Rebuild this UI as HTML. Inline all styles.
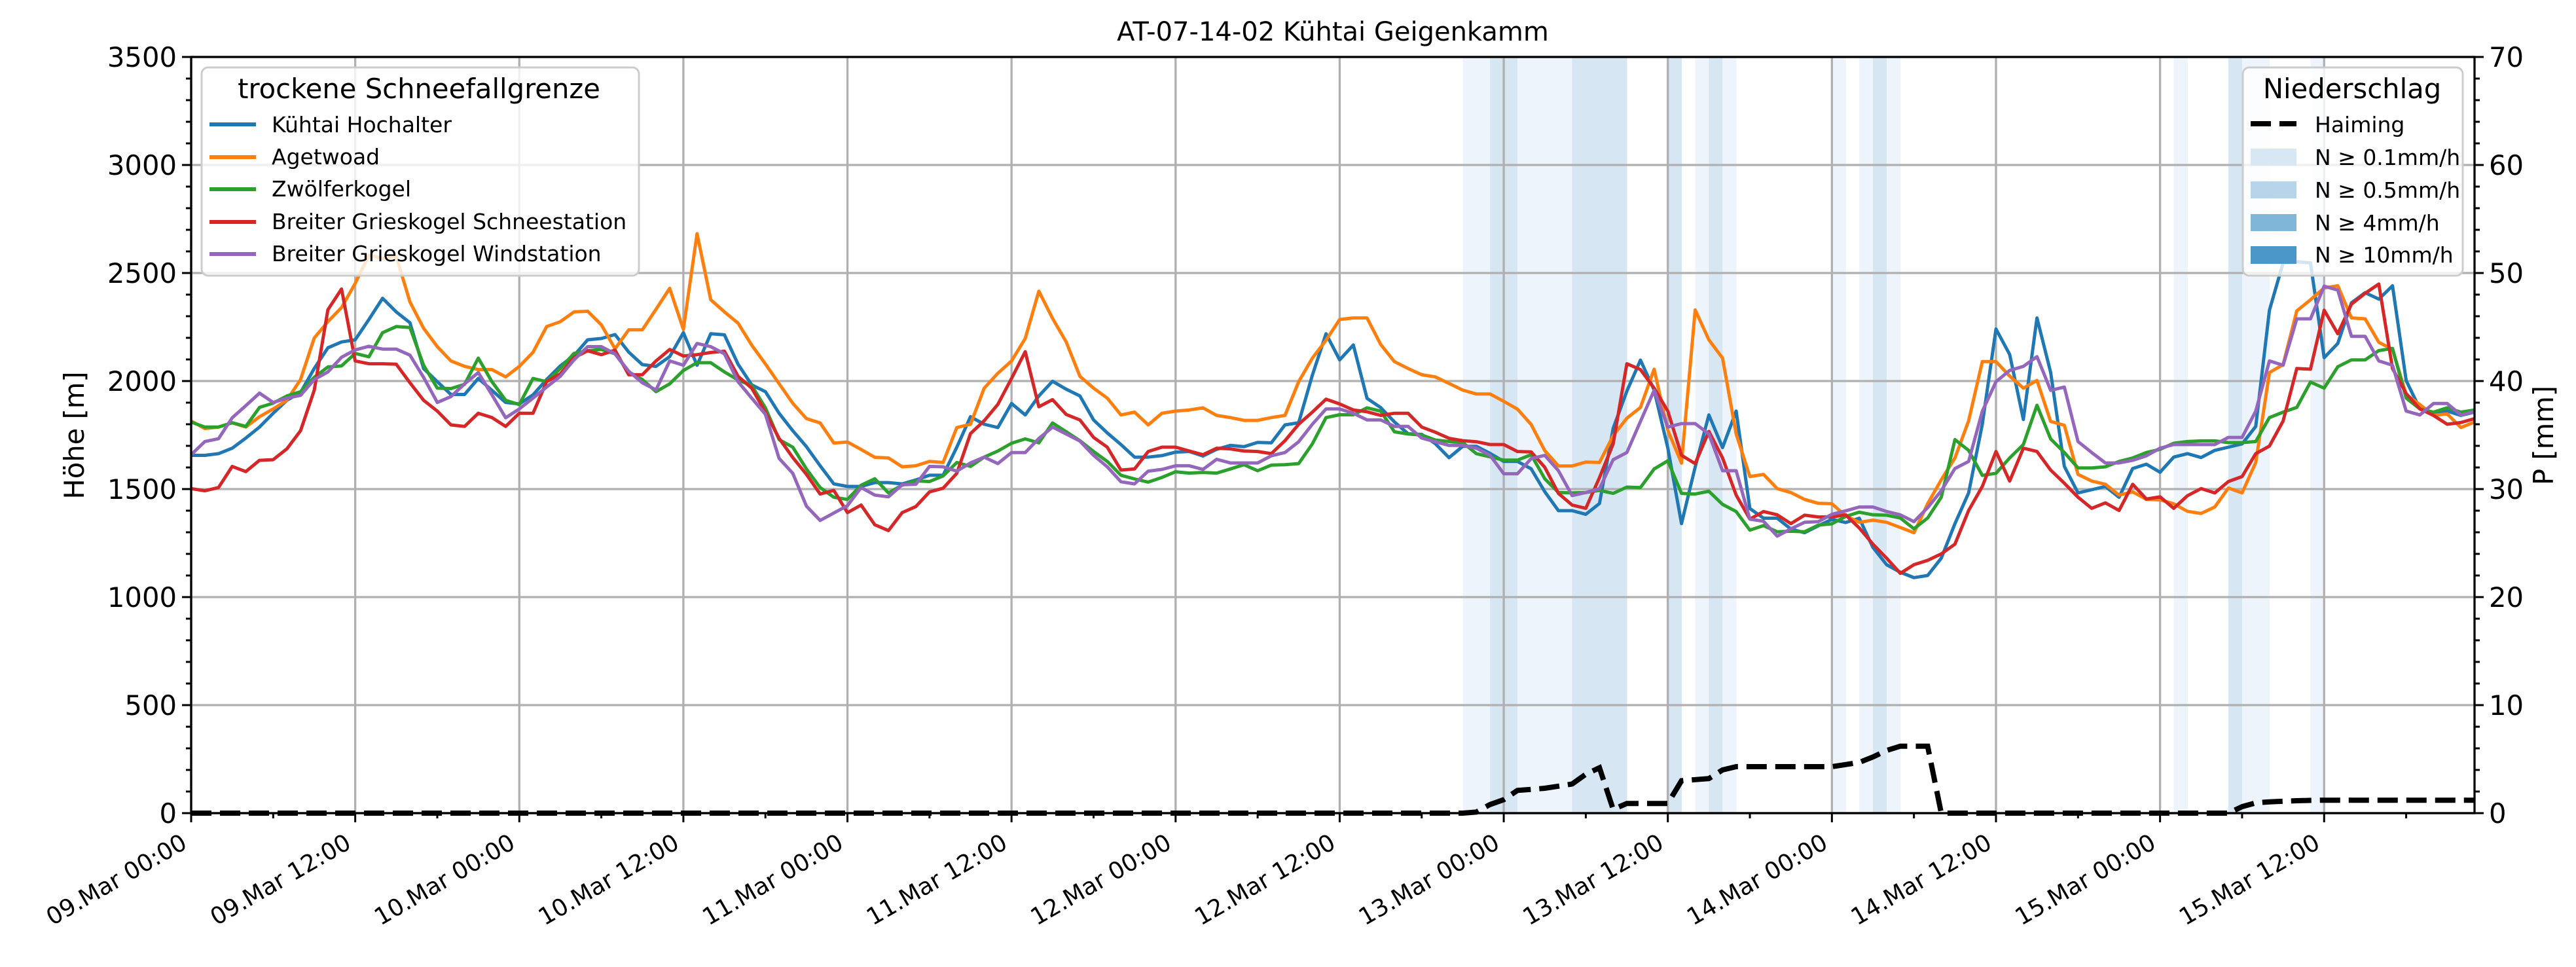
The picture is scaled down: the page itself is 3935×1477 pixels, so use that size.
<!DOCTYPE html>
<html><head><meta charset="utf-8"><title>AT-07-14-02 Kühtai Geigenkamm</title>
<style>html,body{margin:0;padding:0;background:#fff}svg{display:block;font-family:"DejaVu Sans","Liberation Sans",sans-serif}</style>
</head><body>
<svg id="chart" width="3935" height="1477" viewBox="0 0 3935 1477" xmlns="http://www.w3.org/2000/svg">
<rect width="3935" height="1477" fill="#fff"/>
<g id="bands"></g>
<g id="grid"></g>
<g id="series"></g>
<g id="axes"></g>
<text x="2036" y="62" font-size="40" text-anchor="middle">AT-07-14-02 Kühtai Geigenkamm</text>
<text transform="translate(128,665) rotate(-90)" font-size="41.7" text-anchor="middle">Höhe [m]</text>
<text transform="translate(3900,665) rotate(-90)" font-size="41.7" text-anchor="middle">P [mm]</text>

<g>
<rect x="308" y="103" width="668" height="318" rx="10" fill="#fff" fill-opacity="0.8" stroke="#cccccc" stroke-width="3"/>
<text x="640" y="150" font-size="41.7" text-anchor="middle">trockene Schneefallgrenze</text>
<g><line x1="320" y1="190" x2="391" y2="190" stroke="#1f77b4" stroke-width="6"/><text x="415" y="202" font-size="33">Kühtai Hochalter</text></g>
<g><line x1="320" y1="240" x2="391" y2="240" stroke="#ff7f0e" stroke-width="6"/><text x="415" y="251" font-size="33">Agetwoad</text></g>
<g><line x1="320" y1="289" x2="391" y2="289" stroke="#2ca02c" stroke-width="6"/><text x="415" y="300" font-size="33">Zwölferkogel</text></g>
<g><line x1="320" y1="339" x2="391" y2="339" stroke="#d62728" stroke-width="6"/><text x="415" y="350" font-size="33">Breiter Grieskogel Schneestation</text></g>
<g><line x1="320" y1="388" x2="391" y2="388" stroke="#9467bd" stroke-width="6"/><text x="415" y="399" font-size="33">Breiter Grieskogel Windstation</text></g>
</g>

<g>
<rect x="3426" y="103" width="336" height="318" rx="10" fill="#fff" fill-opacity="0.8" stroke="#cccccc" stroke-width="3"/>
<text x="3593" y="150" font-size="41.7" text-anchor="middle">Niederschlag</text>
<g><line x1="3438" y1="189" x2="3508" y2="189" stroke="#000" stroke-width="8" stroke-dasharray="31 13"/><text x="3536" y="202" font-size="33">Haiming</text></g>
<g><rect x="3438" y="227" width="70" height="26" fill="#d8e7f4"/><text x="3536" y="252" font-size="33">N ≥ 0.1mm/h</text></g>
<g><rect x="3438" y="277" width="70" height="26" fill="#b6d4ea"/><text x="3536" y="302" font-size="33">N ≥ 0.5mm/h</text></g>
<g><rect x="3438" y="327" width="70" height="26" fill="#80b7d8"/><text x="3536" y="352" font-size="33">N ≥ 4mm/h</text></g>
<g><rect x="3438" y="376" width="70" height="27" fill="#4a97c8"/><text x="3536" y="401" font-size="33">N ≥ 10mm/h</text></g>
</g>
</svg>
<script>
// ---- data ----
const xTickLabels = ["09.Mar 00:00","09.Mar 12:00","10.Mar 00:00","10.Mar 12:00","11.Mar 00:00","11.Mar 12:00","12.Mar 00:00","12.Mar 12:00","13.Mar 00:00","13.Mar 12:00","14.Mar 00:00","14.Mar 12:00","15.Mar 00:00","15.Mar 12:00"];
const yTicks = [0,500,1000,1500,2000,2500,3000,3500];
const y2Ticks = [0,10,20,30,40,50,60,70];
const seriesNames = ["Kühtai Hochalter","Agetwoad","Zwölferkogel","Breiter Grieskogel Schneestation","Breiter Grieskogel Windstation"];
const kuehtai = [1656,1656,1664,1689,1736,1787,1851,1911,1947,2058,2154,2181,2191,2285,2383,2320,2270,2058,1997,1938,1938,2012,1957,1901,1894,1936,2007,2070,2118,
2191,2197,2215,2134,2076,2068,2113,2224,2073,2219,2214,2078,1982,1951,1851,1770,1696,1608,1524,1512,1512,1530,1530,1524,1542,1564,1564,1694,
1835,1800,1785,1896,1843,1931,1999,1962,1931,1820,1760,1706,1648,1648,1655,1671,1674,1653,1684,1702,1696,1716,1714,1797,1807,2027,2219,2098,2167,
1920,1877,1811,1756,1753,1710,1645,1698,1698,1665,1628,1628,1594,1488,1400,1400,1383,1433,1781,1953,2097,1958,1690,1340,1602,1843,1692,1861,
1410,1365,1365,1315,1298,1330,1360,1345,1365,1230,1150,1115,1090,1100,1180,1340,1482,1800,2241,2123,1822,2292,2040,1605,1482,1497,1512,1462,
1595,1615,1578,1648,1664,1646,1679,1694,1709,1790,2328,2547,2552,2547,2108,2174,2362,2409,2379,2441,2002,1871,1851,1861,1841,1856];
const agetwoad = [1815,1780,1787,1807,1787,1835,1871,1911,2007,2199,2275,2340,2452,2583,2568,2578,2366,2244,2159,2093,2068,2053,2053,2019,2068,2133,2252,2275,2320,
2323,2260,2149,2237,2237,2332,2429,2239,2682,2376,2320,2268,2166,2079,1988,1897,1826,1806,1713,1718,1683,1647,1644,1603,1608,1628,1623,1785,
1800,1967,2036,2093,2197,2416,2290,2181,2022,1967,1921,1843,1856,1797,1851,1861,1866,1876,1841,1831,1818,1818,1831,1841,1997,2106,2189,2285,2292,
2292,2169,2090,2058,2029,2019,1989,1958,1940,1940,1906,1870,1799,1678,1607,1607,1625,1623,1747,1828,1878,2055,1772,1620,2329,2191,2106,1755,
1558,1568,1502,1484,1452,1434,1432,1376,1346,1356,1346,1322,1298,1432,1543,1644,1816,2090,2090,2023,1967,2003,1813,1795,1568,1537,1522,1472,
1487,1452,1450,1432,1397,1387,1417,1505,1482,1623,2039,2076,2325,2376,2431,2441,2292,2288,2179,2147,1937,1891,1841,1848,1785,1810];
const zwoelfer = [1810,1787,1787,1807,1790,1878,1898,1931,1951,2017,2065,2070,2128,2112,2224,2252,2248,2073,1967,1965,1985,2106,1997,1911,1891,2012,1997,2058,2128,
2140,2146,2126,2042,2007,1951,1987,2049,2085,2085,2042,2005,1979,1876,1729,1694,1593,1507,1462,1452,1518,1548,1482,1518,1538,1535,1561,1623,
1605,1648,1676,1712,1732,1714,1806,1765,1724,1674,1628,1564,1547,1532,1554,1580,1574,1577,1574,1593,1613,1585,1611,1613,1618,1709,1831,1844,1844,
1876,1861,1765,1755,1750,1727,1720,1715,1664,1649,1634,1634,1659,1548,1484,1482,1484,1494,1480,1509,1507,1593,1631,1480,1477,1490,1429,1396,
1310,1331,1302,1305,1302,1333,1339,1373,1393,1381,1379,1366,1316,1366,1462,1729,1679,1563,1573,1644,1706,1888,1732,1669,1598,1598,1603,1628,
1644,1669,1684,1712,1720,1723,1723,1715,1715,1720,1831,1856,1878,1995,1967,2066,2098,2098,2141,2151,1921,1871,1856,1876,1856,1866];
const schneestation = [1502,1492,1507,1605,1581,1633,1636,1686,1770,1957,2330,2426,2093,2080,2080,2078,1992,1911,1861,1797,1790,1851,1831,1790,1851,1851,1997,2033,2108,
2140,2122,2143,2029,2029,2093,2146,2116,2122,2132,2138,2022,1967,1856,1735,1646,1568,1477,1494,1391,1426,1335,1308,1391,1419,1487,1504,1573,
1757,1816,1892,2012,2136,1881,1914,1845,1820,1739,1694,1588,1593,1674,1694,1694,1676,1659,1689,1686,1676,1674,1664,1724,1800,1856,1916,1894,1866,
1858,1841,1851,1851,1787,1763,1735,1724,1719,1706,1706,1674,1672,1601,1480,1426,1411,1553,1709,2080,2053,1967,1861,1656,1618,1767,1644,1472,
1361,1396,1381,1340,1379,1371,1371,1381,1320,1245,1180,1110,1150,1170,1200,1245,1401,1512,1674,1537,1689,1674,1588,1527,1462,1411,1436,1401,
1522,1454,1464,1411,1469,1502,1482,1535,1558,1664,1699,1815,2058,2055,2328,2219,2356,2406,2449,2058,1942,1871,1841,1800,1808,1826];
const windstation = [1659,1720,1733,1830,1886,1944,1901,1921,1934,2007,2042,2110,2144,2161,2148,2148,2120,2017,1901,1928,1987,2039,1936,1830,1871,1921,1972,2022,2098,
2159,2159,2126,2045,1992,1959,2093,2073,2174,2159,2126,1997,1921,1846,1642,1573,1421,1355,1389,1423,1507,1472,1464,1520,1522,1605,1603,1583,
1621,1648,1618,1669,1669,1734,1787,1755,1722,1656,1603,1534,1524,1583,1591,1608,1608,1591,1638,1621,1621,1621,1654,1669,1719,1800,1871,1871,1851,
1820,1820,1790,1790,1736,1719,1702,1702,1689,1656,1571,1571,1641,1656,1585,1470,1484,1502,1636,1669,1813,1957,1787,1803,1803,1755,1585,1585,
1361,1351,1282,1316,1346,1349,1383,1399,1417,1417,1396,1381,1349,1414,1492,1595,1628,1860,1997,2049,2068,2113,1957,1972,1720,1669,1621,1621,
1633,1654,1689,1706,1706,1706,1706,1739,1739,1861,2093,2073,2288,2288,2439,2421,2207,2207,2093,2073,1861,1843,1896,1896,1843,1858];
const haiming = [0,0,0,0,0,0,0,0,0,0,0,0,0,0,0,0,0,0,0,0,0,0,0,0,0,0,0,0,0,0,0,0,0,0,0,0,0,0,0,0,0,0,0,0,0,0,0,0,0,0,0,0,0,0,0,0,0,0,0,0,0,0,0,0,0,0,0,0,0,0,0,0,0,0,0,0,0,0,0,0,0,0,0,0,0,0,0,0,0,0,0,0,0,0,
0.1,0.8,1.25,2.1,2.2,2.3,2.5,2.7,3.6,4.2,0.35,0.9,0.9,0.9,0.9,3.0,3.1,3.2,4.0,
4.3,4.3,4.3,4.3,4.3,4.3,4.3,4.3,4.5,4.7,5.2,5.8,6.2,6.2,6.2,
0,0,0,0,0,0,0,0,0,0,0,0,0,0,0,0,0,0,0,0,0,0,
0.6,0.95,1.05,1.1,1.15,1.18,1.2,1.2,1.2,1.2,1.2,1.2,1.2,1.2,1.2,1.2,1.2,1.2];
const rateHours = [93,94,95,96,97,98,99,100,101,102,103,104,108,110,111,112,120,122,123,124,145,149,150,151,155];
const rateValues = [0.2,0.2,1,1,0.2,0.2,0.2,0.2,1,1,1,1,1,0.2,1,0.2,0.2,0.2,1,0.2,0.2,1,0.2,0.2,0.2];

// ---- scales ----
const X0=292, X1=3780, YT=87, YB=1242, NH=167;
const xs = h => X0 + h*(X1-X0)/NH;
const ys = v => YB - v*(YB-YT)/3500;
const ps = p => YB - p*(YB-YT)/70;
const NS="http://www.w3.org/2000/svg";
function mk(tag, attrs, parent){const e=document.createElementNS(NS,tag);for(const k in attrs)e.setAttribute(k,attrs[k]);parent.appendChild(e);return e;}

// bands
const gB=document.getElementById('bands');
rateHours.forEach((h,i)=>{
  const r=rateValues[i];
  const col = r>=10?'#4a97c8':r>=4?'#80b7d8':r>=0.5?'#d6e6f3':'#eef4fb';
  const e=mk('rect',{x:xs(h),y:YT,width:xs(h+1)-xs(h)+0.5,height:YB-YT,fill:col},gB);
  
  
});
// grid
const gG=document.getElementById('grid');
for(let h=0;h<=NH;h+=12){const e=mk('line',{x1:xs(h),x2:xs(h),y1:YT,y2:YB,stroke:'#b0b0b0','stroke-width':3.3},gG);
  
  }
yTicks.forEach(v=>{const e=mk('line',{x1:X0,x2:X1,y1:ys(v),y2:ys(v),stroke:'#b0b0b0','stroke-width':3.3},gG);
  
  });
// series
const gS=document.getElementById('series');
const all=[kuehtai,agetwoad,zwoelfer,schneestation,windstation];
const cols=['#1f77b4','#ff7f0e','#2ca02c','#d62728','#9467bd'];
const keys=['kuehtai-hochalter','agetwoad','zwoelferkogel','schneestation','windstation'];
all.forEach((arr,si)=>{
  const d=arr.map((v,i)=>(i?'L':'M')+xs(i).toFixed(1)+' '+ys(v).toFixed(1)).join(' ');
  const e=mk('path',{d:d,fill:'none',stroke:cols[si],'stroke-width':5,'stroke-linejoin':'round'},gS);
  
  
});
{const d=haiming.map((v,i)=>(i?'L':'M')+xs(i).toFixed(1)+' '+ps(v).toFixed(1)).join(' ');
 const e=mk('path',{d:d,fill:'none',stroke:'#000','stroke-width':8,'stroke-dasharray':'31 13'},gS);
 
 }
// axes
const gA=document.getElementById('axes');
mk('rect',{x:X0,y:YT,width:X1-X0,height:YB-YT,fill:'none',stroke:'#000','stroke-width':3.3},gA);
for(let v=0;v<=3500;v+=100){const maj=v%500===0;mk('line',{x1:X0,x2:X0-(maj?14:8),y1:ys(v),y2:ys(v),stroke:'#000','stroke-width':3},gA);}
for(let p=0;p<=70;p+=2){const maj=p%10===0;mk('line',{x1:X1,x2:X1+(maj?14:8),y1:ps(p),y2:ps(p),stroke:'#000','stroke-width':3},gA);}
for(let h=0;h<=NH;h+=6){const maj=h%12===0;mk('line',{x1:xs(h),x2:xs(h),y1:YB,y2:YB+(maj?14:8),stroke:'#000','stroke-width':3},gA);}
yTicks.forEach(v=>{const t=mk('text',{x:X0-22,y:ys(v)+15,'font-size':41.7,'text-anchor':'end'},gA);t.textContent=v;
  
  });
y2Ticks.forEach(p=>{const t=mk('text',{x:X1+22,y:ps(p)+15,'font-size':41.7,'text-anchor':'start'},gA);t.textContent=p;
  
  });
xTickLabels.forEach((lab,i)=>{const x=xs(i*12)-4;const t=mk('text',{transform:'translate('+x+',1294) rotate(-30)','font-size':36,'text-anchor':'end'},gA);t.textContent=lab;
  
  });
</script>
</body></html>
